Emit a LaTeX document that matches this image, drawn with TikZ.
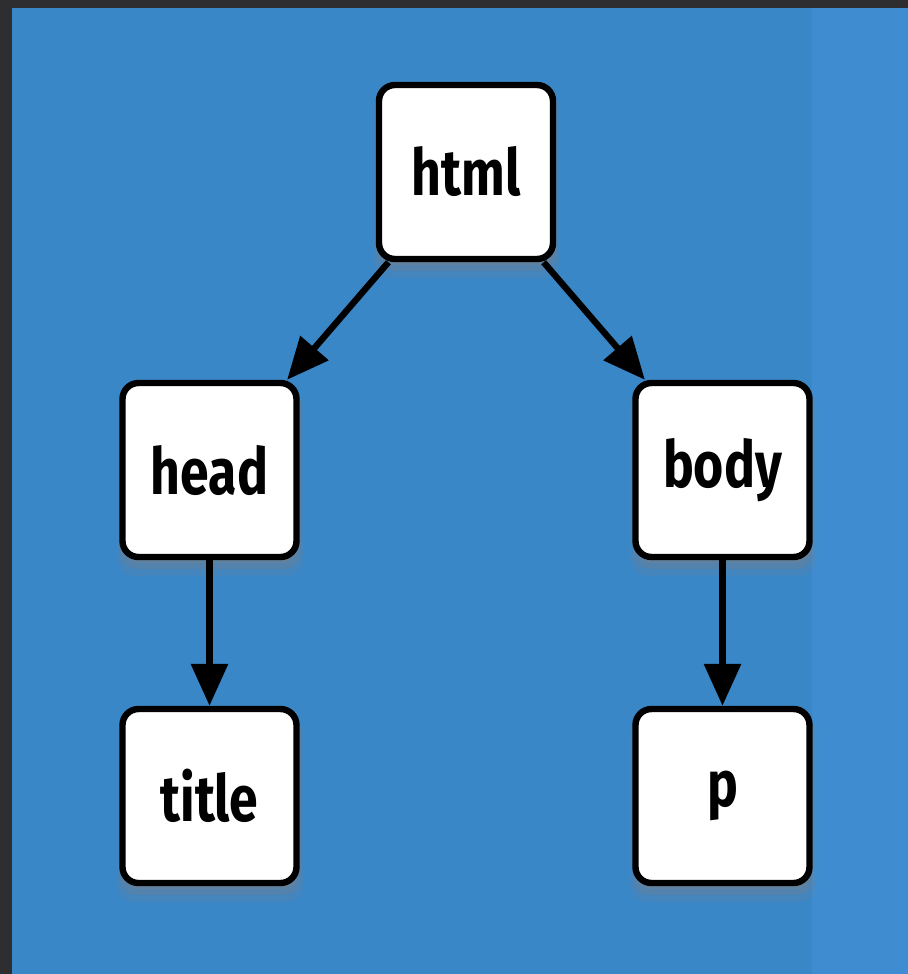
\documentclass[tikz,border=0pt]{standalone}
\usepackage{fontspec}
\newfontfamily\tagfont{Fira Sans}[FakeStretch=0.8]
\usetikzlibrary{arrows.meta,shadows}
\definecolor{slate}{RGB}{46,46,48}
\definecolor{bgblue}{RGB}{58,135,200}
\definecolor{bgblueright}{RGB}{63,141,208}
\begin{document}
\begin{tikzpicture}[
			level 1/.style={level distance=7.45cm, sibling distance=12.825cm},
			level 2/.style={level distance=8.15cm},
			tag/.style={draw, line width=0.16cm, fill=white, rounded corners=0.4cm,
				minimum size=4.35cm, inner sep=0pt,
				font=\tagfont\bfseries\fontsize{46}{50}\selectfont,
				drop shadow={shadow xshift=0.02cm, shadow yshift=-0.3cm, shadow scale=1.07, opacity=0.15},
				drop shadow={shadow xshift=0.02cm, shadow yshift=-0.2cm, shadow scale=1.04, opacity=0.25},
				drop shadow={shadow xshift=0.02cm, shadow yshift=-0.12cm, shadow scale=1.01, opacity=0.35}},
			edge from parent/.style={draw, line width=0.16cm, -{Triangle[length=1.05cm,width=0.9cm]}}
		]
		% background
		\fill[slate] (0,0) rectangle (22.7,-24.35);
		\fill[bgblue] (0.3,-0.2) rectangle (22.7,-24.35);
		\fill[bgblueright] (20.3,-0.2) rectangle (22.7,-24.35);
		\node[tag] (html) at (11.65,-4.3) {html}
		child {
				node[tag] (head) {head}
				child {node[tag] (title) {title}}
			}
		child {
				node[tag] (body) {body}
				child {node[tag] (p) {p}}
			};
	\end{tikzpicture}
\end{document}
